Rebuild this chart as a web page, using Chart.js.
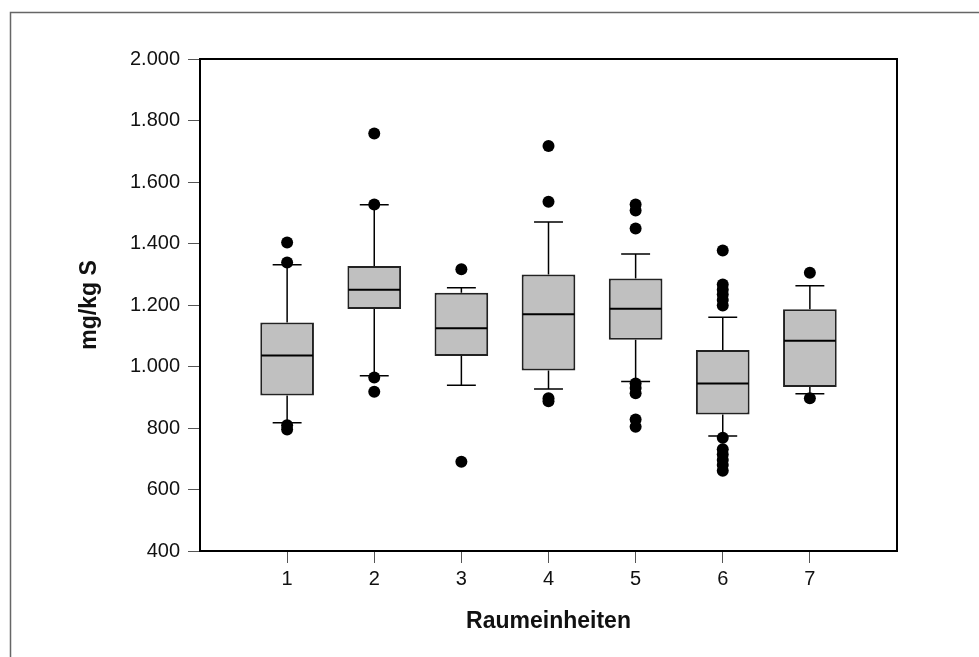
<!DOCTYPE html>
<html>
<head>
<meta charset="utf-8">
<script src="https://cdn.jsdelivr.net/npm/chart.js@4.4.0/dist/chart.umd.min.js"></script>
<style>
  html, body { margin: 0; padding: 0; background: #fff; }
  #wrap { width: 979px; height: 657px; position: relative; }
</style>
</head>
<body>
<div id="wrap"><canvas id="myChart" width="979" height="657"></canvas></div>
<script>
// Raumeinheiten 1..7, values (mg/kg S)
const categories = [1, 2, 3, 4, 5, 6, 7];
const whiskerLow = [817, 970, 939, 927, 951, 774, 911];
const q1 = [906, 1187, 1034, 987, 1087, 844, 933];
const median = [1036, 1250, 1124, 1170, 1188, 945, 1084];
const q3 = [1143, 1327, 1240, 1299, 1286, 1054, 1186];
const whiskerHigh = [1331, 1526, 1256, 1470, 1366, 1160, 1263];
const outliers = [
  [1403, 1338, 809, 795],
  [1758, 1527, 964, 918],
  [1316, 690],
  [1717, 1536, 897, 887],
  [1527, 1507, 1449, 945, 930, 913, 828, 804],
  [1377, 1267, 1250, 1234, 1216, 1198, 768, 731, 714, 696, 680, 661],
  [1305, 897]
];
const yTicks = [400, 600, 800, 1000, 1200, 1400, 1600, 1800, 2000];

const capHalf = 0.166; // half width of whisker caps, x units

function fmt(v) {
  return String(v).replace(/\B(?=(\d{3})+(?!\d))/g, '.');
}

// whiskers + caps under the boxes, median on top, frames
const boxPlugin = {
  id: 'boxPlugin',
  beforeDraw(chart) {
    const ctx = chart.ctx;
    ctx.save();
    ctx.fillStyle = '#fff';
    ctx.fillRect(0, 0, chart.width, chart.height);
    ctx.strokeStyle = '#666';
    ctx.lineWidth = 1.5;
    ctx.strokeRect(10.5, 12.5, 2000, 2000);
    ctx.restore();
  },
  beforeDatasetsDraw(chart) {
    const ctx = chart.ctx, x = chart.scales.x, y = chart.scales.y;
    ctx.save();
    ctx.strokeStyle = '#000';
    ctx.lineWidth = 1.5;
    categories.forEach((c, i) => {
      const px = x.getPixelForValue(c);
      const l = x.getPixelForValue(c - capHalf), r = x.getPixelForValue(c + capHalf);
      ctx.beginPath();
      ctx.moveTo(px, y.getPixelForValue(q3[i]));
      ctx.lineTo(px, y.getPixelForValue(whiskerHigh[i]));
      ctx.moveTo(px, y.getPixelForValue(q1[i]));
      ctx.lineTo(px, y.getPixelForValue(whiskerLow[i]));
      ctx.moveTo(l, y.getPixelForValue(whiskerHigh[i]));
      ctx.lineTo(r, y.getPixelForValue(whiskerHigh[i]));
      ctx.moveTo(l, y.getPixelForValue(whiskerLow[i]));
      ctx.lineTo(r, y.getPixelForValue(whiskerLow[i]));
      ctx.stroke();
    });
    ctx.restore();
  },
  afterDatasetDraw(chart, args) {
    if (args.index !== 1) return;
    const ctx = chart.ctx, y = chart.scales.y;
    const meta = chart.getDatasetMeta(1);
    ctx.save();
    ctx.strokeStyle = '#000';
    ctx.lineWidth = 2;
    categories.forEach((c, i) => {
      const bar = meta.data[i];
      const half = bar.width / 2 - 1;
      const py = y.getPixelForValue(median[i]);
      ctx.beginPath();
      ctx.moveTo(bar.x - half, py);
      ctx.lineTo(bar.x + half, py);
      ctx.stroke();
    });
    ctx.restore();
  },
  afterDraw(chart) {
    const a = chart.chartArea, ctx = chart.ctx;
    ctx.save();
    ctx.strokeStyle = '#000';
    ctx.lineWidth = 2;
    ctx.strokeRect(a.left, a.top, a.right - a.left, a.bottom - a.top);
    ctx.restore();
  }
};

const outlierPoints = [];
outliers.forEach((list, i) => list.forEach(v => outlierPoints.push({ x: categories[i], y: v })));

var ctx = document.getElementById('myChart');
var myChart = new Chart(ctx, {
  type: 'bar',
  data: {
    datasets: [
      {
        type: 'scatter',
        data: outlierPoints,
        pointRadius: 6,
        pointHoverRadius: 6,
        backgroundColor: '#000',
        borderWidth: 0
      },
      {
        type: 'bar',
        data: categories.map((c, i) => ({ x: c, y: [q1[i], q3[i]] })),
        backgroundColor: '#c0c0c0',
        borderColor: '#222',
        borderWidth: 2,
        borderSkipped: false,
        categoryPercentage: 1,
        barPercentage: 0.616
      }
    ]
  },
  plugins: [boxPlugin],
  options: {
    responsive: false,
    animation: false,
    events: [],
    layout: { padding: { left: 76, right: 82, top: 59, bottom: 22 } },
    plugins: { legend: { display: false }, tooltip: { enabled: false } },
    scales: {
      x: {
        type: 'linear',
        min: 0,
        max: 8,
        offset: false,
        afterBuildTicks: s => { s.ticks = categories.map(v => ({ value: v })); },
        afterFit: s => { s.height = 84; },
        grid: { offset: false, drawOnChartArea: false, drawTicks: true, tickLength: 12, color: '#555', lineWidth: 1 },
        border: { display: true, color: '#000', width: 2 },
        ticks: { color: '#111', font: { family: 'Liberation Sans, Arial', size: 20 }, padding: 4, maxRotation: 0 },
        title: {
          display: true,
          text: 'Raumeinheiten',
          color: '#111',
          font: { family: 'Liberation Sans, Arial', size: 23, weight: 'bold' },
          padding: 0
        }
      },
      y: {
        min: 400,
        max: 2000,
        afterBuildTicks: s => { s.ticks = yTicks.map(v => ({ value: v })); },
        afterFit: s => { s.width = 124; },
        grid: { drawOnChartArea: false, drawTicks: true, tickLength: 12, color: '#555', lineWidth: 1 },
        border: { display: true, color: '#000', width: 2 },
        ticks: { color: '#111', font: { family: 'Liberation Sans, Arial', size: 20 }, padding: 8, callback: v => fmt(v) },
        title: {
          display: true,
          text: 'mg/kg S',
          color: '#111',
          font: { family: 'Liberation Sans, Arial', size: 23, weight: 'bold' },
          padding: 0
        }
      }
    }
  }
});
</script>
</body>
</html>
